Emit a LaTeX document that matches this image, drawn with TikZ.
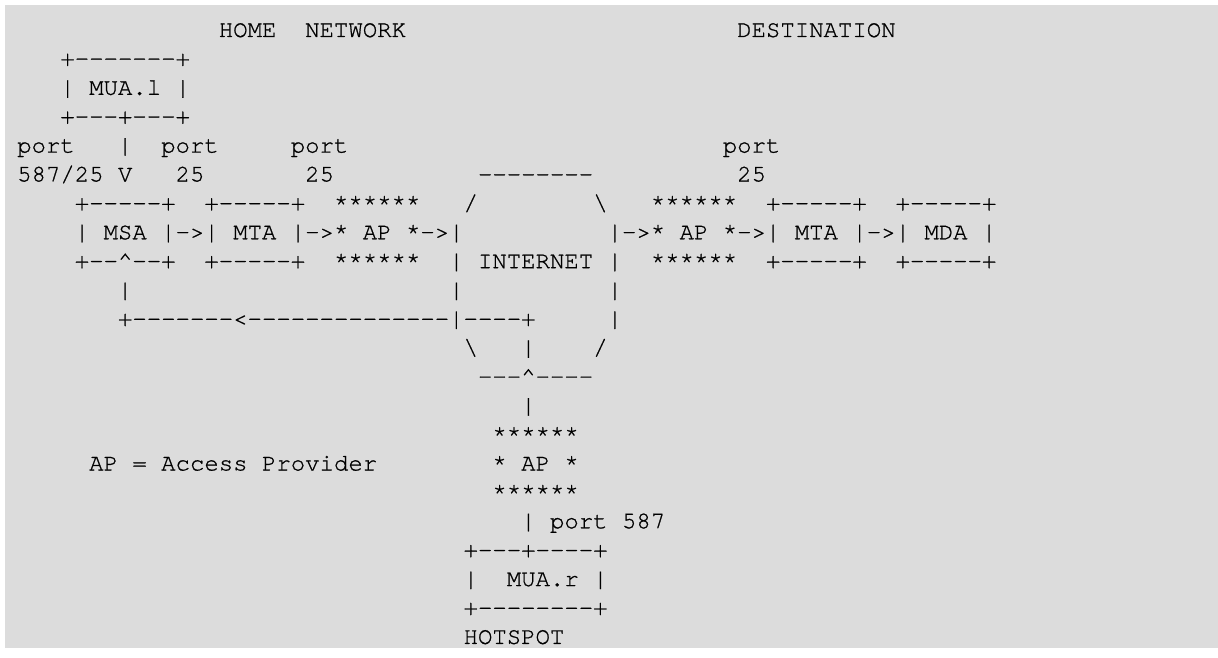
\documentclass[tikz,border=0pt]{standalone}
\usepackage{fontspec}
\setmonofont{texgyrecursor}[Extension=.otf,UprightFont=*-regular,UprightFeatures={FakeBold=0.8}]
\usepackage{xcolor}
\usepackage{tikz}
\definecolor{paper}{RGB}{220,220,220}

\begin{document}
\begin{tikzpicture}[x=14.4pt,y=-28.9pt,
	ascii/.style={anchor=base west,inner sep=0pt,text=black,
		font=\ttfamily\frenchspacing\fontsize{24pt}{29pt}\selectfont}]
	 \fill[white] (-17pt,37pt) rectangle (1201pt,-621pt);
	 \fill[paper] (-12pt,32pt) rectangle (1201pt,-611pt);
	 \useasboundingbox (-17pt,37pt) rectangle (1201pt,-621pt);
	 % headings
	 \node[ascii] (home) at (14,0) {HOME};
	 \node[ascii] (network) at (20,0) {NETWORK};
	 \node[ascii] (dest) at (50,0) {DESTINATION};
	 % local user agent
	 \node[ascii] (mual-top) at (3,1) {+-------+};
	 \node[ascii] (mual) at (3,2) {| MUA.l |};
	 \node[ascii] (mual-bot) at (3,3) {+---+---+};
	 \node[ascii] (port-a) at (0,4) {port};
	 \node[ascii] (mual-line) at (7,4) {|};
	 \node[ascii] (port-b) at (10,4) {port};
	 \node[ascii] (port-c) at (19,4) {port};
	 \node[ascii] (port-d) at (49,4) {port};
	 \node[ascii] (num-a) at (0,5) {587/25 V};
	 \node[ascii] (num-b) at (11,5) {25};
	 \node[ascii] (num-c) at (20,5) {25};
	 \node[ascii] (inet-top) at (32,5) {--------};
	 \node[ascii] (num-d) at (50,5) {25};
	 % main row
	 \node[ascii] (msa-top) at (4,6) {+-----+};
	 \node[ascii] (mta-top) at (13,6) {+-----+};
	 \node[ascii] (ap1-top) at (22,6) {******};
	 \node[ascii] (inet-nw) at (31,6) {/};
	 \node[ascii] (inet-ne) at (40,6) {\textbackslash};
	 \node[ascii] (ap2-top) at (44,6) {******};
	 \node[ascii] (mtb-top) at (52,6) {+-----+};
	 \node[ascii] (mda-top) at (61,6) {+-----+};
	 \node[ascii] (msa) at (4,7) {| MSA |};
	 \node[ascii] (arr-a) at (11,7) {->};
	 \node[ascii] (mta) at (13,7) {| MTA |};
	 \node[ascii] (arr-b) at (20,7) {->};
	 \node[ascii] (ap1) at (22,7) {* AP *};
	 \node[ascii] (arr-c) at (28,7) {->};
	 \node[ascii] (inet-w) at (30,7) {|};
	 \node[ascii] (inet-e) at (41,7) {|};
	 \node[ascii] (arr-d) at (42,7) {->};
	 \node[ascii] (ap2) at (44,7) {* AP *};
	 \node[ascii] (arr-e) at (50,7) {->};
	 \node[ascii] (mtb) at (52,7) {| MTA |};
	 \node[ascii] (arr-f) at (59,7) {->};
	 \node[ascii] (mda) at (61,7) {| MDA |};
	 \node[ascii] (msa-bot) at (4,8) {+--\textasciicircum--+};
	 \node[ascii] (mta-bot) at (13,8) {+-----+};
	 \node[ascii] (ap1-bot) at (22,8) {******};
	 \node[ascii] (inet) at (30,8) {| INTERNET |};
	 \node[ascii] (ap2-bot) at (44,8) {******};
	 \node[ascii] (mtb-bot) at (52,8) {+-----+};
	 \node[ascii] (mda-bot) at (61,8) {+-----+};
	 % loop back to the MSA
	 \node[ascii] (back-a) at (7,9) {|};
	 \node[ascii] (inet-w2) at (30,9) {|};
	 \node[ascii] (inet-e2) at (41,9) {|};
	 \node[ascii] (back-b) at (7,10) {+-------<--------------|----+};
	 \node[ascii] (inet-e3) at (41,10) {|};
	 \node[ascii] (inet-sw) at (31,11) {\textbackslash};
	 \node[ascii] (back-c) at (35,11) {|};
	 \node[ascii] (inet-se) at (40,11) {/};
	 \node[ascii] (inet-bot) at (32,12) {---\textasciicircum----};
	 % hotspot
	 \node[ascii] (ap3-line) at (35,13) {|};
	 \node[ascii] (ap3-top) at (33,14) {******};
	 \node[ascii] (legend) at (5,15) {AP = Access Provider};
	 \node[ascii] (ap3) at (33,15) {* AP *};
	 \node[ascii] (ap3-bot) at (33,16) {******};
	 \node[ascii] (port-e) at (35,17) {| port 587};
	 \node[ascii] (muar-top) at (31,18) {+---+----+};
	 \node[ascii] (muar) at (31,19) {|\ \ MUA.r |};
	 \node[ascii] (muar-bot) at (31,20) {+--------+};
	 \node[ascii] (hotspot) at (31,21) {HOTSPOT};
\end{tikzpicture}
\end{document}
